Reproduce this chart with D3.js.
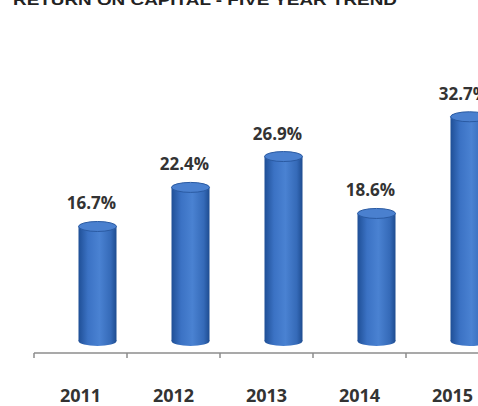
<!DOCTYPE html>
<html>
<head>
<meta charset="utf-8">
<script src="https://cdn.jsdelivr.net/npm/d3@7/dist/d3.min.js"></script>
<style>
  body { margin: 0; background: #fff; }
  svg { display: block; }
</style>
</head>
<body>
<svg id="chart" width="478" height="406"></svg>
<script>
// chart data
var years = ["2011", "2012", "2013", "2014", "2015"];
var returns = [16.7, 22.4, 26.9, 18.6, 32.7];
var title = "RETURN ON CAPITAL - FIVE YEAR TREND";

var svg = d3.select("#chart");

var x = d3.scaleBand().domain(years).range([34, 499]);
var y = d3.scaleLinear().domain([0, 35]).range([336, 96]);

var barW = 38, ry = 5, shift = 17;

var defs = svg.append("defs");
var body = defs.append("linearGradient").attr("id", "body");
body.append("stop").attr("offset", "0%").attr("stop-color", "#1f4f96");
body.append("stop").attr("offset", "25%").attr("stop-color", "#3b72c4");
body.append("stop").attr("offset", "55%").attr("stop-color", "#4a82d2");
body.append("stop").attr("offset", "85%").attr("stop-color", "#356ab8");
body.append("stop").attr("offset", "100%").attr("stop-color", "#1e4c90");

// title (cut off at the top like the source)
svg.append("text")
  .attr("x", 13).attr("y", 5)
  .attr("font-family", "Liberation Sans, Arial, sans-serif")
  .attr("font-weight", "bold").attr("font-size", 15)
  .attr("fill", "#222")
  .attr("textLength", 384).attr("lengthAdjust", "spacingAndGlyphs")
  .text(title);

// axis line with ticks at category boundaries
var axisY = 353;
var edges = years.map(function(d) { return x(d); }).concat([x(years[years.length - 1]) + x.bandwidth()]);
svg.append("line")
  .attr("x1", x.range()[0]).attr("x2", x.range()[1])
  .attr("y1", axisY).attr("y2", axisY)
  .attr("stroke", "#8c8c8c").attr("stroke-width", 1.5);
svg.selectAll(".tick").data(edges).enter().append("line")
  .attr("x1", function(d) { return d; }).attr("x2", function(d) { return d; })
  .attr("y1", axisY).attr("y2", axisY + 5)
  .attr("stroke", "#8c8c8c").attr("stroke-width", 1.5);

// cylinders
var bars = svg.selectAll(".bar").data(returns).enter().append("g").attr("class", "bar");
function cx(d, i) { return x(years[i]) + x.bandwidth() / 2 + shift; }

bars.append("ellipse")
  .attr("cx", cx).attr("cy", y(0) + ry)
  .attr("rx", barW / 2).attr("ry", ry)
  .attr("fill", "url(#body)");
bars.append("rect")
  .attr("x", function(d, i) { return cx(d, i) - barW / 2; })
  .attr("y", function(d) { return y(d) + ry; })
  .attr("width", barW)
  .attr("height", function(d) { return y(0) - y(d); })
  .attr("fill", "url(#body)");
bars.append("ellipse")
  .attr("cx", cx).attr("cy", function(d) { return y(d) + ry; })
  .attr("rx", barW / 2).attr("ry", ry)
  .attr("fill", "#4a80cf").attr("stroke", "#2a5aa2").attr("stroke-width", 1);

// value labels
svg.selectAll(".val").data(returns).enter().append("text")
  .attr("x", function(d, i) { return cx(d, i) - 6; })
  .attr("y", function(d) { return y(d) - 12; })
  .attr("text-anchor", "middle")
  .attr("font-family", "Open Sans, sans-serif")
  .attr("font-weight", "bold").attr("font-size", 17)
  .attr("fill", "#333")
  .text(function(d) { return d.toFixed(1) + "%"; });

// category labels
svg.selectAll(".cat").data(years).enter().append("text")
  .attr("x", function(d) { return x(d) + x.bandwidth() / 2; })
  .attr("y", 402)
  .attr("text-anchor", "middle")
  .attr("font-family", "Open Sans, sans-serif")
  .attr("font-weight", "bold").attr("font-size", 18)
  .attr("fill", "#333")
  .text(function(d) { return d; });
</script>
</body>
</html>
